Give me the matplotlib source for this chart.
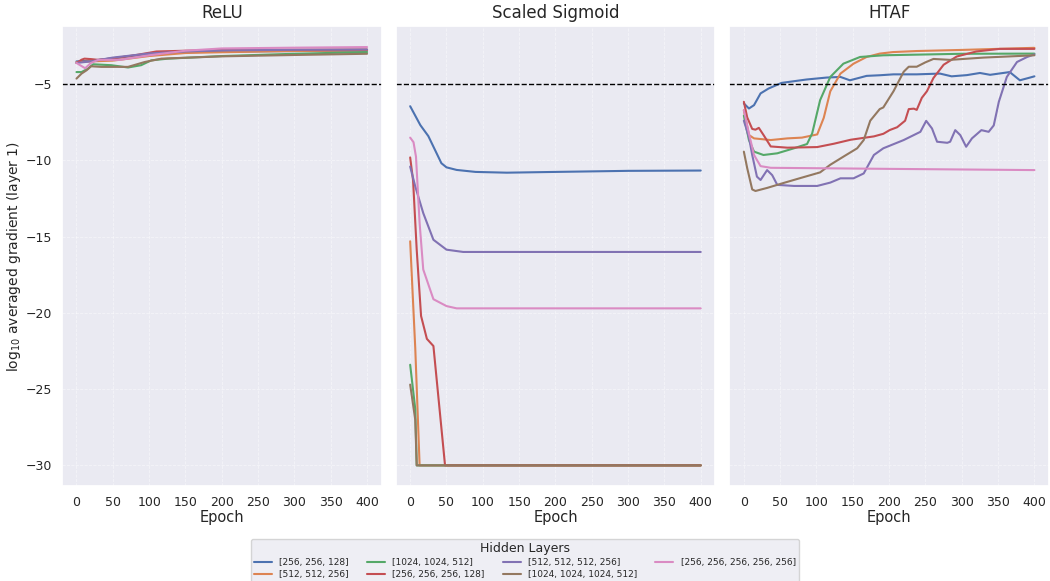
import matplotlib
matplotlib.use("Agg")
import matplotlib.pyplot as plt
import seaborn as sns

hidden_layers = [
    "[256, 256, 128]",
    "[512, 512, 256]",
    "[1024, 1024, 512]",
    "[256, 256, 256, 128]",
    "[512, 512, 512, 256]",
    "[1024, 1024, 1024, 512]",
    "[256, 256, 256, 256, 256]",
]
activations = ["ReLU", "Scaled Sigmoid", "HTAF"]

# ReLU panel (epoch, log10 grad) per hidden layer config
relu_x = [
    [0, 20, 50, 100, 150, 200, 300, 400],
    [0, 20, 50, 100, 150, 200, 300, 400],
    [0, 7, 16, 23, 48, 71, 89, 103, 126, 200, 300, 400],
    [0, 7, 11, 20, 30, 50, 80, 110, 150, 200, 400],
    [0, 20, 50, 100, 150, 200, 300, 400],
    [0, 7, 14, 20, 34, 71, 94, 117, 200, 300, 400],
    [0, 5, 12, 20, 30, 60, 100, 150, 200, 300, 400],
]
relu_y = [
    [-3.5, -3.45, -3.3, -3.0, -2.9, -2.85, -2.82, -2.8],
    [-3.55, -3.5, -3.45, -3.15, -2.95, -2.9, -2.82, -2.78],
    [-4.2, -4.2, -3.97, -3.69, -3.75, -3.9, -3.75, -3.43, -3.32, -3.15, -3.0, -2.89],
    [-3.61, -3.39, -3.32, -3.35, -3.4, -3.3, -3.1, -2.85, -2.8, -2.75, -2.72],
    [-3.6, -3.5, -3.25, -2.98, -2.85, -2.78, -2.74, -2.72],
    [-4.63, -4.3, -4.08, -3.82, -3.86, -3.86, -3.54, -3.32, -3.17, -3.08, -3.0],
    [-3.6, -3.75, -3.95, -3.6, -3.4, -3.4, -3.1, -2.8, -2.65, -2.6, -2.56],
]

sigmoid_x = [
    [0, 14, 25, 43, 50, 64, 90, 133, 200, 300, 400],
    [0, 7, 13, 400],
    [0, 7, 9, 400],
    [0, 4, 9, 15, 23, 32, 48, 400],
    [0, 7, 18, 32, 50, 73, 400],
    [0, 7, 9, 400],
    [0, 4.6, 8, 13, 18, 32, 50, 64, 400],
]
sigmoid_y = [
    [-6.44, -7.68, -8.4, -10.18, -10.45, -10.62, -10.75, -10.8, -10.75, -10.68, -10.66],
    [-15.3, -22.3, -30, -30],
    [-23.4, -26.3, -30, -30],
    [-9.8, -11.3, -15.85, -20.2, -21.7, -22.17, -30, -30],
    [-10.4, -11.7, -13.45, -15.2, -15.85, -16.0, -16.0],
    [-24.7, -27.0, -30, -30],
    [-8.5, -8.8, -9.75, -14.1, -17.15, -19.1, -19.55, -19.7, -19.7],
]

htaf_x = [
    [0, 7, 14, 23, 34, 52, 86, 114, 133, 146, 169, 187, 206, 238, 270, 286,
     307, 325, 339, 366, 380, 394, 400],
    [0, 7, 14, 37, 60, 80, 101, 110, 119, 133, 151, 169, 187, 205, 238, 298, 400],
    [0, 7, 14, 27, 46, 69, 87, 94, 105, 119, 137, 160, 192, 300, 400],
    [0, 4.6, 11.5, 16, 20.6, 27.5, 37, 60, 101, 124, 147, 179, 192, 201, 211,
     222, 227, 234, 238, 245, 252, 261, 275, 293, 320, 352, 400],
    [0, 7, 11.5, 18, 23, 32, 39, 46, 69, 101, 119, 133, 151, 165, 179, 192, 220,
     243, 251, 259, 266, 280, 284, 291, 298, 306, 314, 327, 337, 344, 351, 362,
     376, 390, 400],
    [0, 4.6, 11.5, 16, 32, 55, 78, 105, 119, 137, 156, 165, 174, 187, 192, 206,
     220, 227, 238, 250, 261, 284, 330, 400],
    [0, 7, 14, 23, 37, 200, 400],
]
htaf_y = [
    [-6.26, -6.59, -6.37, -5.6, -5.28, -4.91, -4.69, -4.56, -4.52, -4.74, -4.45,
     -4.41, -4.35, -4.35, -4.3, -4.48, -4.4, -4.26, -4.38, -4.2, -4.74, -4.56, -4.48],
    [-6.7, -8.33, -8.55, -8.66, -8.55, -8.5, -8.29, -7.2, -5.46, -4.3, -3.65,
     -3.21, -2.99, -2.89, -2.82, -2.75, -2.61],
    [-7.06, -8.66, -9.42, -9.64, -9.53, -9.2, -8.92, -8.23, -6.04, -4.52, -3.65,
     -3.21, -3.1, -3.0, -2.99],
    [-6.15, -7.17, -7.93, -7.98, -7.86, -8.36, -9.08, -9.16, -9.12, -8.9, -8.64,
     -8.42, -8.25, -8.0, -7.82, -7.39, -6.63, -6.6, -6.68, -5.89, -5.46, -4.59,
     -3.72, -3.18, -2.85, -2.68, -2.68],
    [-7.39, -8.47, -9.64, -11.06, -11.28, -10.63, -10.96, -11.6, -11.67, -11.67,
     -11.45, -11.17, -11.17, -10.85, -9.64, -9.2, -8.66, -8.12, -7.4, -7.9, -8.77,
     -8.84, -8.77, -8.01, -8.34, -9.1, -8.55, -8.01, -8.12, -7.7, -6.15, -4.52,
     -3.54, -3.21, -3.04],
    [-9.42, -10.5, -11.9, -12.0, -11.8, -11.47, -11.15, -10.78, -10.28, -9.75,
     -9.2, -8.66, -7.39, -6.63, -6.52, -5.46, -4.18, -3.85, -3.85, -3.56, -3.34,
     -3.4, -3.25, -3.1],
    [-6.7, -8.23, -9.64, -10.37, -10.48, -10.55, -10.63],
]

threshold = -5

sns.set_theme(style="darkgrid")
plt.rcParams["font.family"] = ["DejaVu Sans"]
colors = sns.color_palette("deep", 7)

fig, axes = plt.subplots(1, 3, figsize=(10.5, 5.81), dpi=100, sharey=True)
fig.subplots_adjust(left=0.059, right=0.999, top=0.955, bottom=0.163, wspace=0.044)

panels = [(relu_x, relu_y), (sigmoid_x, sigmoid_y), (htaf_x, htaf_y)]
for ax, name, (xs, ys) in zip(axes, activations, panels):
    for i, label in enumerate(hidden_layers):
        ax.plot(xs[i], ys[i], color=colors[i], linewidth=1.5, label=label)
    ax.axhline(threshold, color="black", linestyle="--", linewidth=1)
    ax.set_title(name, fontsize=12)
    ax.set_xlabel("Epoch", fontsize=10.5, labelpad=0.5)
    ax.set_xticks(range(0, 401, 50))
    ax.tick_params(labelsize=9, pad=1)
    ax.grid(True, linestyle="--", linewidth=0.6, alpha=0.5)

axes[0].set_yticks(range(-30, -4, 5))
axes[0].set_ylabel("log$_{10}$ averaged gradient (layer 1)", fontsize=10, labelpad=2)

handles, labels = axes[0].get_legend_handles_labels()
fig.legend(
    handles,
    labels,
    title="Hidden Layers",
    loc="upper center",
    bbox_to_anchor=(0.5, 0.0725),
    borderaxespad=0,
    ncol=4,
    fontsize=6.5,
    title_fontsize=9,
    borderpad=0.3,
    labelspacing=0.35,
    frameon=True,
)

plt.savefig("out.png", dpi=100)
